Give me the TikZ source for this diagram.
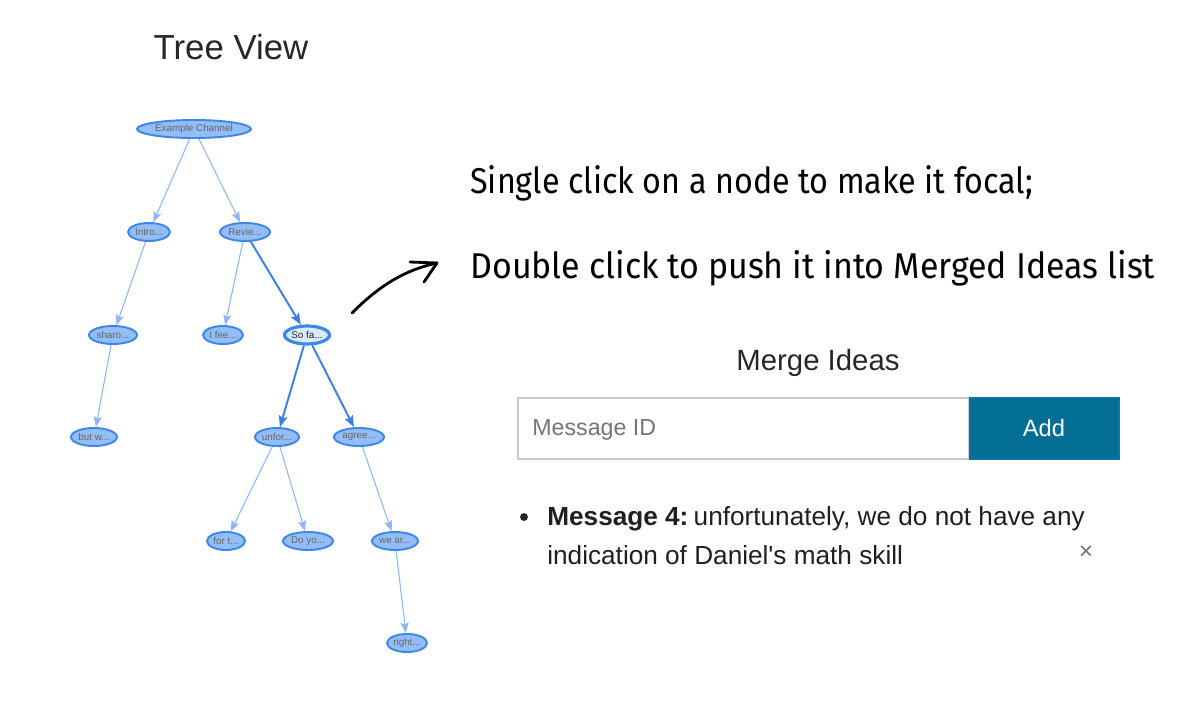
\documentclass[tikz,border=0pt]{standalone}
\usepackage{fontspec}
\setmainfont{Liberation Sans}
\newfontfamily\handfont{Fira Sans}
\usetikzlibrary{arrows.meta,shapes.geometric}
\definecolor{nodefill}{HTML}{93BDF7}
\definecolor{nodeline}{HTML}{3D86EA}
\definecolor{thinedge}{HTML}{8CB6F6}
\definecolor{thickedge}{HTML}{3A80E4}
\definecolor{focalfill}{HTML}{DCE8FC}
\definecolor{addblue}{HTML}{026E94}
\definecolor{boxgray}{HTML}{CBCBCB}
\definecolor{phgray}{HTML}{757575}
\tikzset{
  tnode/.style={ellipse, draw=nodeline, line width=1.1pt, fill=nodefill, inner sep=0pt,
    minimum height=0.36cm, text=black!60, font=\fontsize{5.6}{6}\selectfont},
  focal/.style={tnode, fill=focalfill, line width=1.8pt, text=black!85},
  thin/.style={draw=thinedge, line width=0.6pt, -{Stealth[length=6pt,width=4.6pt,inset=1.2pt]}},
  thick/.style={draw=thickedge, line width=1.1pt, -{Stealth[length=6.5pt,width=5pt,inset=1.2pt]}},
  hand/.style={anchor=west, inner sep=0pt},
}
\begin{document}
\begin{tikzpicture}[x=0.02cm,y=-0.02cm]
\useasboundingbox (0,0) rectangle (1200,700);
% title
\node[font=\fontsize{19.8}{22}\selectfont, text=black!85] (title) at (231,47) {Tree View};
% tree nodes
\node[tnode, minimum width=2.28cm] (ex) at (194,129) {Example Channel};
\node[tnode, minimum width=0.84cm] (intro) at (149,232) {Intro...};
\node[tnode, minimum width=1.0cm] (revie) at (245,232) {Revie...};
\node[tnode, minimum width=0.96cm] (sharo) at (113,335) {sharo...};
\node[tnode, minimum width=0.80cm] (ifee) at (223,335) {I fee...};
\node[focal, minimum width=0.90cm] (sofa) at (307,335) {So fa...};
\node[tnode, minimum width=0.92cm] (butw) at (94,437) {but w...};
\node[tnode, minimum width=0.88cm] (unfor) at (277,437) {unfor...};
\node[tnode, minimum width=1.0cm] (agree) at (359,437) {agree...};
\node[tnode, minimum width=0.76cm] (fort) at (226,541) {for t...};
\node[tnode, minimum width=1.0cm] (doyo) at (308,541) {Do yo...};
\node[tnode, minimum width=0.92cm] (wear) at (395,541) {we ar...};
\node[tnode, minimum width=0.80cm] (right) at (407,643) {right...};
% edges
\draw[thin] (ex) -- (intro);
\draw[thin] (ex) -- (revie);
\draw[thin] (intro) -- (sharo);
\draw[thin] (sharo) -- (butw);
\draw[thin] (revie) -- (ifee);
\draw[thick] (revie) -- (sofa);
\draw[thick] (sofa) -- (unfor);
\draw[thick] (sofa) -- (agree);
\draw[thin] (unfor) -- (fort);
\draw[thin] (unfor) -- (doyo);
\draw[thin] (agree) -- (wear);
\draw[thin] (wear) -- (right);
% annotation arrow
\coordinate (arS) at (352,313);
\coordinate (arE) at (437,263);
\coordinate (arB1) at (410,262);
\coordinate (arB2) at (424,282);
\draw[line width=1.6pt, line cap=round] (arS) .. controls (380,285) and (405,270) .. (arE);
\draw[line width=1.6pt, line cap=round, line join=round] (arB1) -- (arE) -- (arB2);
% handwritten notes
\node[hand] (note1) at (470,183) {\handfont\resizebox{11.26cm}{0.56cm}{Single click on a node to make it focal;}};
\node[hand] (note2) at (470,268) {\handfont\resizebox{13.7cm}{0.56cm}{Double click to push it into Merged Ideas list}};
% merge ideas
\node[font=\fontsize{16.7}{20}\selectfont, text=black!85] (mtitle) at (818,363) {Merge Ideas};
\node[draw=boxgray, line width=1.1pt, fill=white, minimum width=9.02cm, minimum height=1.22cm, inner sep=0pt] (inbox) at (743.5,428.5) {};
\node[anchor=west, text=phgray, font=\fontsize{13.2}{15}\selectfont, inner sep=0pt] (ph) at (532,430) {Message ID};
\node[draw=addblue!80!nodeline, line width=0.6pt, fill=addblue, minimum width=3.0cm, minimum height=1.22cm, inner sep=0pt, text=white, font=\fontsize{13.5}{15}\selectfont] (add) at (1044,428.5) {\raisebox{-2pt}{Add}};
% list item
\node[circle, fill=black!85, inner sep=0pt, minimum size=4.5pt] (bul) at (524,517) {};
\node[anchor=base west, inner sep=0pt, font=\fontsize{14.9}{17}\selectfont, text=black!88] (l1) at (547,525) {\textbf{Message 4:}\hspace{0.2em}unfortunately, we do not have any};
\node[anchor=base west, inner sep=0pt, font=\fontsize{14.9}{17}\selectfont, text=black!88] (l2) at (547,564) {indication of Daniel\textquotesingle s math skill};
\node[text=black!55, font=\fontsize{14}{16}\selectfont, inner sep=0pt] (close) at (1086,553) {×};
\end{tikzpicture}
\end{document}
